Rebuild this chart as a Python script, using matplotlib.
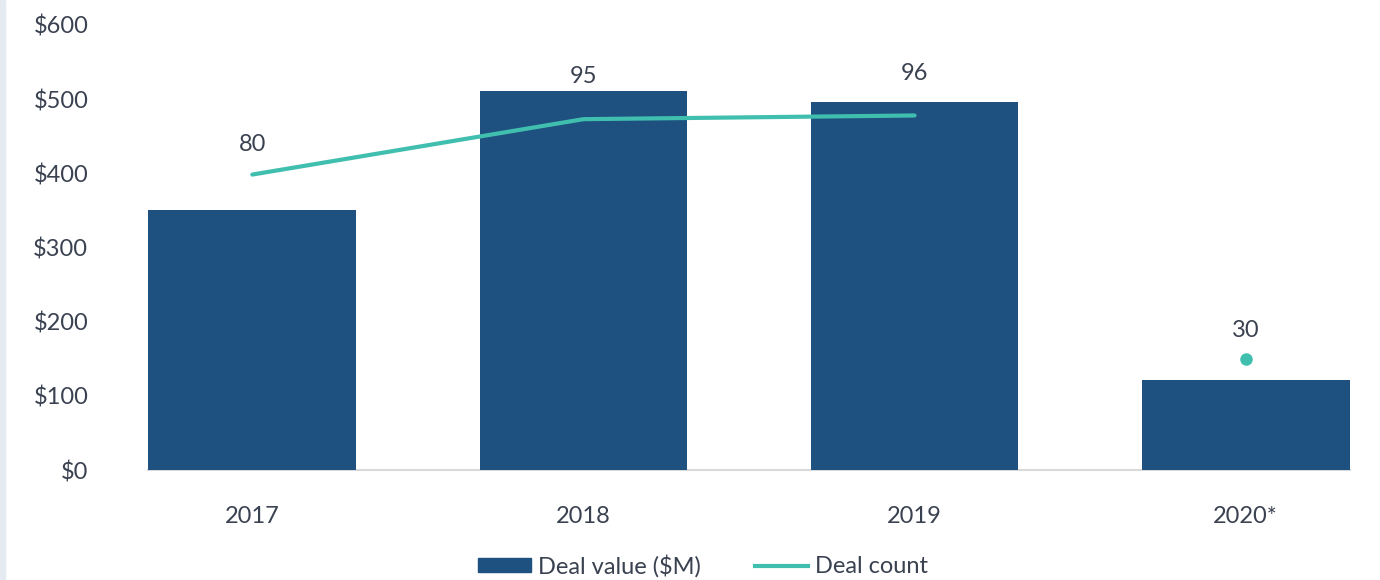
import matplotlib
matplotlib.use("Agg")
import matplotlib.pyplot as plt
import numpy as np
from matplotlib.patches import Rectangle
from matplotlib.lines import Line2D

years = ["2017", "2018", "2019", "2020*"]
deal_value = [351, 511, 496, 121]
deal_count = [80, 95, 96, 30]
value_ticks = [0, 100, 200, 300, 400, 500, 600]
value_tick_labels = ["$0", "$100", "$200", "$300", "$400", "$500", "$600"]

BAR = "#1E5080"
TEAL = "#40BFAF"
TEXT = "#3A4150"
FS = 17

plt.rcParams["font.family"] = ["Lato", "DejaVu Sans"]

fig = plt.figure(figsize=(13.8, 5.8), dpi=100)
fig.patches.append(Rectangle((0, 0), 5 / 1380, 1, transform=fig.transFigure,
                             color="#E6EAF2", zorder=0))
ax = fig.add_axes([148 / 1380, 1 - 470 / 580, 1202 / 1380, 445 / 580])

x = np.arange(len(years))
ax.bar(x, deal_value, width=0.627, color=BAR, zorder=2)
ax.set_xlim(-0.315, len(years) - 1 + 0.315)
ax.set_ylim(0, 600)
ax.set_yticks(value_ticks)
ax.set_yticklabels(value_tick_labels)
ax.set_xticks(x)
ax.set_xticklabels(years)
ax.tick_params(axis="y", length=0, pad=43, labelsize=FS, labelcolor=TEXT)
ax.tick_params(axis="x", length=0, pad=26, labelsize=FS, labelcolor=TEXT)
for side in ("top", "right", "left"):
    ax.spines[side].set_visible(False)
ax.spines["bottom"].set_color("#D9D9D9")
ax.spines["bottom"].set_linewidth(1.5)
ax.spines["bottom"].set_zorder(1)

# deal count on a hidden secondary scale; 2020 shown as a lone point
ax2 = ax.twinx()
ax2.set_ylim(0, 120.5)
ax2.axis("off")
ax2.plot(x[:3], deal_count[:3], color=TEAL, lw=3, solid_capstyle="round", zorder=3)
ax2.plot(x[3], deal_count[3], "o", color=TEAL, ms=8, zorder=3)

label_offsets = [22, 31, 30, 21]
for xi, c, off in zip(x, deal_count, label_offsets):
    ax2.annotate(str(c), (xi, c), xytext=(0, off), textcoords="offset points",
                 ha="center", va="center", fontsize=FS, color=TEXT)

handles = [Rectangle((0, 0), 1, 1, color=BAR),
           Line2D([0], [0], color=TEAL, lw=3)]
fig.legend(handles, ["Deal value ($M)", "Deal count"], loc="center",
           bbox_to_anchor=(703 / 1380, 1 - 566 / 580), ncol=2, frameon=False,
           fontsize=FS, labelcolor=TEXT, handlelength=2.25, handleheight=0.5,
           handletextpad=0.3, columnspacing=2.3)

fig.savefig("out.png", dpi=100)
